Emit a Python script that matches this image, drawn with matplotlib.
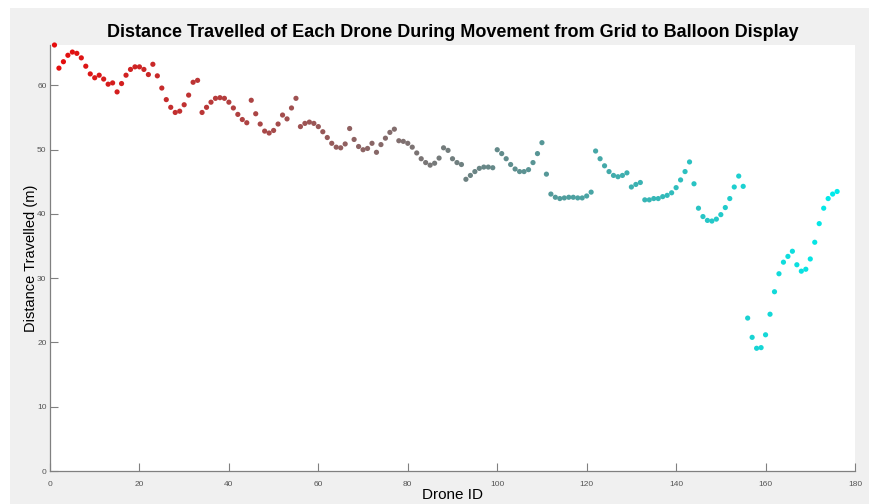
import matplotlib.pyplot as plt
import numpy as np
from matplotlib.colors import LinearSegmentedColormap
from matplotlib.patches import Rectangle

plt.rcParams['font.family'] = ['Liberation Sans', 'DejaVu Sans']

# distance travelled per drone (m), drone ids 1..176
dist_1_33 = [66.3, 62.7, 63.7, 64.7, 65.2, 65.0, 64.3, 63.0, 61.8, 61.2,
             61.6, 61.0, 60.2, 60.4, 59.0, 60.3, 61.6, 62.5, 62.9, 62.9,
             62.5, 61.7, 63.3, 61.5, 59.6, 57.8, 56.6, 55.8, 56.0, 57.0,
             58.5, 60.5, 60.8]
dist_34_66 = [55.8, 56.6, 57.4, 58.0, 58.1, 58.0, 57.4, 56.5, 55.5, 54.7,
              54.2, 57.7, 55.6, 54.0, 52.9, 52.6, 53.0, 54.0, 55.4, 54.8,
              56.5, 58.0, 53.6, 54.1, 54.3, 54.1, 53.6, 52.8, 51.9, 51.0,
              50.4, 50.3, 50.9]
dist_67_99 = [53.3, 51.6, 50.5, 50.0, 50.2, 51.0, 49.6, 50.8, 51.8, 52.7,
              53.2, 51.4, 51.3, 51.0, 50.4, 49.5, 48.6, 48.0, 47.6, 47.9,
              48.7, 50.3, 49.9, 48.6, 48.0, 47.7, 45.4, 46.0, 46.6, 47.1,
              47.3, 47.3, 47.2]
dist_100_132 = [50.0, 49.4, 48.6, 47.7, 47.0, 46.6, 46.6, 46.9, 48.0, 49.4,
                51.1, 46.2, 43.1, 42.6, 42.4, 42.5, 42.6, 42.6, 42.5, 42.5,
                42.8, 43.4, 49.8, 48.6, 47.5, 46.6, 46.0, 45.8, 46.0, 46.4,
                44.2, 44.6, 44.9]
dist_133_176 = [42.2, 42.2, 42.4, 42.4, 42.7, 42.9, 43.3, 44.1, 45.3, 46.6,
                48.1, 44.7, 40.9, 39.6, 39.0, 38.9, 39.2, 39.9, 41.0, 42.4,
                44.2, 45.9, 44.3, 23.8, 20.8, 19.1, 19.2, 21.2, 24.4, 27.9,
                30.7, 32.5, 33.4, 34.2, 32.1, 31.1, 31.4, 33.0, 35.6, 38.5,
                40.9, 42.4, 43.1, 43.5]

distance = np.array(dist_1_33 + dist_34_66 + dist_67_99 + dist_100_132 + dist_133_176)
drone_id = np.arange(1, len(distance) + 1)

cmap = LinearSegmentedColormap.from_list('red_cyan', [(0.9, 0.05, 0.05), (0.0, 0.92, 0.92)])

fig = plt.figure(figsize=(8.7, 5.04), dpi=100, facecolor='#f0f0f0')
# white screenshot border on left and top
fig.patches.append(Rectangle((0, 0), 10 / 870, 1, transform=fig.transFigure,
                             facecolor='white', edgecolor='none', zorder=0))
fig.patches.append(Rectangle((0, 1 - 8 / 504), 1, 8 / 504, transform=fig.transFigure,
                             facecolor='white', edgecolor='none', zorder=0))

ax = fig.add_axes([50 / 870, 33 / 504, 805 / 870, 426 / 504])
ax.scatter(drone_id, distance, c=drone_id, cmap=cmap, s=14, linewidths=0, clip_on=False)

ax.set_xlim(0, 180)
ax.set_ylim(0, distance.max())
ax.set_xticks(np.arange(0, 181, 20))
ax.set_yticks(np.arange(0, 61, 10))

for side in ['top', 'right']:
    ax.spines[side].set_visible(False)
for side in ['left', 'bottom']:
    ax.spines[side].set_color('#808080')
    ax.spines[side].set_linewidth(0.9)
ax.tick_params(direction='in', length=6, width=0.8, color='#808080',
               labelsize=6, labelcolor='#555555')
ax.tick_params(axis='x', pad=7)
ax.tick_params(axis='y', pad=2.5)

ax.set_xlabel('Drone ID', fontsize=11, labelpad=0)
ax.set_ylabel('Distance Travelled (m)', fontsize=10.5)
ax.yaxis.set_label_coords(-0.015, 0.5)
ax.set_title('Distance Travelled of Each Drone During Movement from Grid to Balloon Display',
             fontsize=13, fontweight='bold', pad=6)

fig.savefig('out.png', dpi=100, facecolor=fig.get_facecolor())
